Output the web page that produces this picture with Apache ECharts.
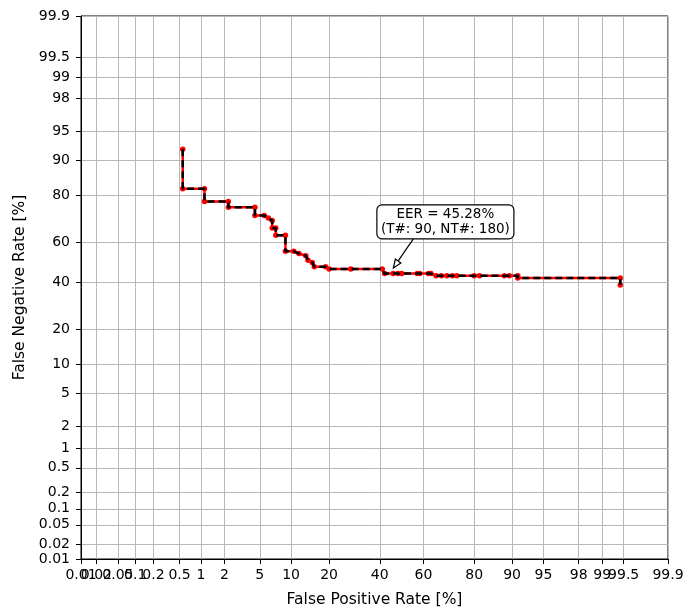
<!DOCTYPE html>
<html>
<head>
<meta charset="utf-8">
<script src="https://cdn.jsdelivr.net/npm/echarts@6.0.0/dist/echarts.min.js"></script>
<style>html,body{margin:0;padding:0;background:#fff;}#c{width:686px;height:609px;}</style>
</head>
<body>
<div id="c"></div>
<script>
// Tick labels (percent) for both probit axes
const tickLabels = [0.01, 0.02, 0.05, 0.1, 0.2, 0.5, 1, 2, 5, 10, 20, 40, 60, 80, 90, 95, 98, 99, 99.5, 99.9];
// DET curve points (percent)
const fprPct = [0.556, 0.556, 1.111, 1.111, 2.222, 2.222, 4.444, 4.444, 5.556, 6.111, 6.667, 6.667, 7.222, 7.222, 8.889, 8.889, 10.56, 11.67, 13.33, 13.89, 15.0, 15.56, 18.89, 20.0, 27.78, 41.11, 42.22, 46.11, 48.33, 50.0, 57.22, 58.33, 62.22, 63.33, 65.56, 67.78, 70.0, 72.22, 73.89, 80.0, 81.67, 88.33, 89.44, 91.11, 91.11, 99.44, 99.44];
const fnrPct = [92.22, 82.22, 82.22, 77.78, 77.78, 75.56, 75.56, 72.22, 72.22, 71.11, 70.0, 66.67, 66.67, 63.33, 63.33, 55.56, 55.56, 54.44, 53.33, 51.11, 50.0, 47.78, 47.78, 46.67, 46.67, 46.67, 44.44, 44.44, 44.44, 44.44, 44.44, 44.44, 44.44, 44.44, 43.33, 43.33, 43.33, 43.33, 43.33, 43.33, 43.33, 43.33, 43.33, 43.33, 42.22, 42.22, 38.89];
const eerPct = 45.28;
const annotationText = 'EER = 45.28%\n(T#: 90, NT#: 180)';

function probit(p){
  const a=[-3.969683028665376e+01,2.209460984245205e+02,-2.759285104469687e+02,1.383577518672690e+02,-3.066479806614716e+01,2.506628277459239e+00];
  const b=[-5.447609879822406e+01,1.615858368580409e+02,-1.556989798598866e+02,6.680131188771972e+01,-1.328068155288572e+01];
  const c=[-7.784894002430293e-03,-3.223964580411365e-01,-2.400758277161838e+00,-2.549732539343734e+00,4.374664141464968e+00,2.938163982698783e+00];
  const d=[7.784695709041462e-03,3.224671290700398e-01,2.445134137142996e+00,3.754408661907416e+00];
  const pl=0.02425, ph=1-pl; let q,r;
  if(p<pl){q=Math.sqrt(-2*Math.log(p));return (((((c[0]*q+c[1])*q+c[2])*q+c[3])*q+c[4])*q+c[5])/((((d[0]*q+d[1])*q+d[2])*q+d[3])*q+1);}
  if(p<=ph){q=p-0.5;r=q*q;return (((((a[0]*r+a[1])*r+a[2])*r+a[3])*r+a[4])*r+a[5])*q/(((((b[0]*r+b[1])*r+b[2])*r+b[3])*r+b[4])*r+1);}
  q=Math.sqrt(-2*Math.log(1-p));return -(((((c[0]*q+c[1])*q+c[2])*q+c[3])*q+c[4])*q+c[5])/((((d[0]*q+d[1])*q+d[2])*q+d[3])*q+1);
}
const tickVals = tickLabels.map(t => probit(t/100));
const axMin = tickVals[0], axMax = tickVals[tickVals.length-1];
function fmt(v){
  let best=0, bd=1e9;
  tickVals.forEach((t,i)=>{const dd=Math.abs(t-v); if(dd<bd){bd=dd;best=i;}});
  return String(tickLabels[best]);
}
const pts = fprPct.map((x,i)=>[probit(x/100), probit(fnrPct[i]/100)]);
const FONT = 'DejaVu Sans';
// x labels are split over two axes so ECharts does not drop overlapping ones
const xLabelsA = tickVals.filter((v,i)=>i!==1);
const xLabelsB = [tickVals[1]];

function axisCfg(name, isX, labelVals){
  return {
    type:'value', min:axMin, max:axMax, name:name, nameLocation:'middle',
    nameGap: isX ? 33 : 51,
    nameTextStyle:{fontFamily:FONT, fontSize:15.5, color:'#000'},
    axisLine:{show:true, onZero:false, lineStyle:{color:'#000', width:1}},
    axisTick:{show:true, length:5, customValues:tickVals, lineStyle:{color:'#000', width:1}},
    axisLabel:{show:true, customValues:labelVals, formatter:fmt, showMinLabel:true, showMaxLabel:true, hideOverlap:false,
      fontFamily:FONT, fontSize:14, color:'#000', margin: isX ? 9 : 11},
    splitLine:{show:true, lineStyle:{color:'#b8b8b8', width:1}}
  };
}
const xExtra = {
  type:'value', min:axMin, max:axMax, position:'bottom', gridIndex:0,
  axisLine:{show:false, onZero:false}, axisTick:{show:false}, splitLine:{show:false},
  axisLabel:{show:true, customValues:xLabelsB, formatter:fmt, fontFamily:FONT, fontSize:14, color:'#000', margin:9}
};

const chart = echarts.init(document.getElementById('c'), null, {renderer:'canvas'});
chart.setOption({
  animation:false,
  backgroundColor:'#fff',
  grid:{left:81, right:18, top:16, bottom:50, outerBoundsMode:'none', containLabel:false,
        show:true, borderColor:'#000', borderWidth:1, backgroundColor:'transparent'},
  xAxis: [axisCfg('False Positive Rate [%]', true, xLabelsA), xExtra],
  yAxis: axisCfg('False Negative Rate [%]', false, tickVals),
  series:[
    {type:'line', data:pts, symbol:'circle', symbolSize:5.5, itemStyle:{color:'#ff0000'}, lineStyle:{color:'#ff0000', width:2.5}, z:2},
    {type:'line', data:pts, symbol:'none', lineStyle:{color:'#000', width:2.5, type:[7,4]}, z:3}
  ]
});

const p = chart.convertToPixel({gridIndex:0}, [probit(eerPct/100), probit(eerPct/100)]);
const bx = p[0]+54, by = p[1]-50, bw = 137, bh = 34;
const sx = p[0]+22, sy = p[1]-33, ex = p[0]+2, ey = p[1]-4;
const ang = Math.atan2(ey-sy, ex-sx), hl = 9, ha = 0.38;
const h1 = [ex - hl*Math.cos(ang-ha), ey - hl*Math.sin(ang-ha)];
const h2 = [ex - hl*Math.cos(ang+ha), ey - hl*Math.sin(ang+ha)];
chart.setOption({
  graphic:[
    {type:'line', shape:{x1:sx, y1:sy, x2:ex, y2:ey}, style:{stroke:'#000', lineWidth:1.2}, z:10},
    {type:'polygon', shape:{points:[[ex,ey],h1,h2]}, style:{stroke:'#000', fill:'#fff', lineWidth:1.2}, z:10},
    {type:'rect', shape:{x:bx-bw/2, y:by-bh/2, width:bw, height:bh, r:5}, style:{fill:'#fff', stroke:'#000', lineWidth:1.2}, z:11},
    {type:'text', x:bx, y:by, style:{text:annotationText, textAlign:'center', textVerticalAlign:'middle', font:'13.5px "DejaVu Sans"', lineHeight:15, fill:'#000'}, z:12}
  ]
});
</script>
</body>
</html>
